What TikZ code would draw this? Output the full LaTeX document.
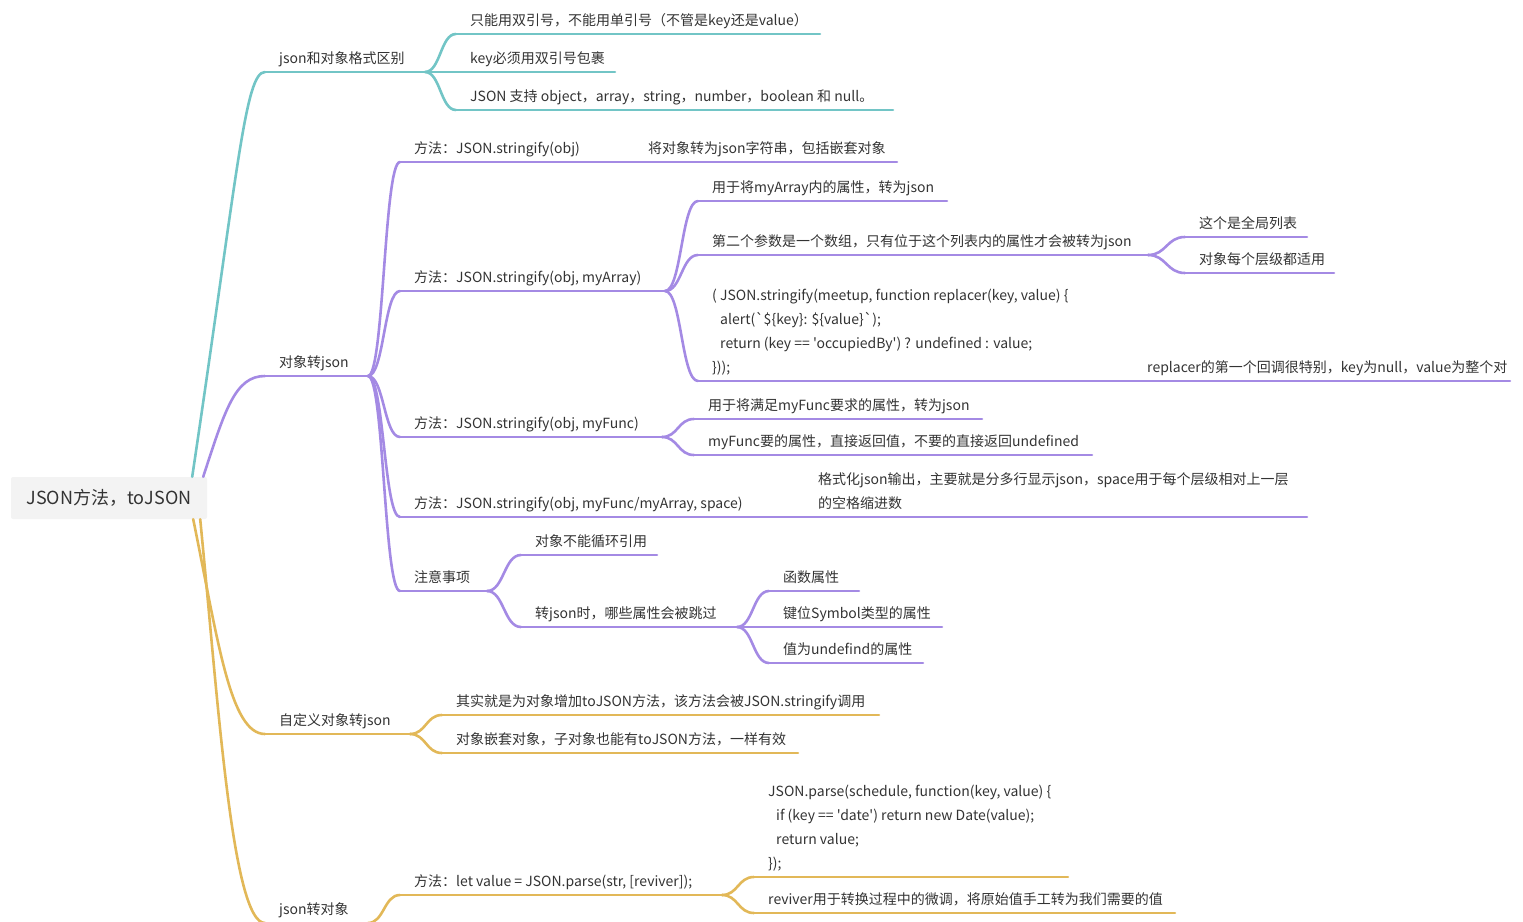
\documentclass[tikz,border=0pt]{standalone}
\usepackage{fontspec}
\setmainfont{Noto Sans CJK SC}[Ligatures=TeXOff]
\usetikzlibrary{calc}
\definecolor{cteal}{RGB}{114,197,198}
\definecolor{cpurple}{RGB}{164,138,228}
\definecolor{cyellow}{RGB}{226,184,88}
\definecolor{ctext}{RGB}{51,51,51}
\definecolor{croot}{RGB}{243,243,243}
\tikzset{
  lbl/.style={inner sep=0pt, text=ctext, font=\fontsize{14}{24}\selectfont, align=left, anchor=base west},
  uline/.style={line width=2.6pt, line cap=round},
  rootbox/.style={fill=croot, rounded corners=2pt, minimum width=196pt, minimum height=42pt, inner sep=0pt, text=ctext, font=\fontsize{18}{22}\selectfont},
}
% #1 name, #2 colour, #3 x0, #4 x1, #5 underline y, #6 text x, #7 last baseline y, #8 text
\newcommand\mmtopic[8]{%
  \coordinate (#1-s) at (#3,#5);
  \coordinate (#1-e) at (#4,#5);
  \draw[uline,#2] (#1-s) -- (#1-e);
  \node[lbl] (#1) at (#6,#7) {#8};
}
\newcommand\mmlink[3]{%
  \draw[uline,#1] let \p1=(#2-e), \p2=(#3-s) in
    (\p1) .. controls ({(\x1+\x2)/2},\y1) and ({(\x1+\x2)/2},\y2) .. (\p2);
}
\begin{document}
\begin{tikzpicture}[x=1pt,y=-1pt]
\useasboundingbox (0,0) rectangle (1523,921);

% root
\node[rootbox] (root) at (109,498) {JSON方法，toJSON};

% ---------- teal ----------
\mmtopic{t1}{cteal}{265}{425}{72}{279}{63}{json和对象格式区别}
\mmtopic{t1a}{cteal}{456}{820}{34}{470}{25}{只能用双引号，不能用单引号（不管是key还是value）}
\mmtopic{t1b}{cteal}{456}{615}{72}{470}{63}{key必须用双引号包裹}
\mmtopic{t1c}{cteal}{456}{893}{110}{470}{101}{JSON 支持 object，array，string，number，boolean 和 null。}
\mmlink{cteal}{t1}{t1a}
\mmlink{cteal}{t1}{t1b}
\mmlink{cteal}{t1}{t1c}

% ---------- purple ----------
\mmtopic{p1}{cpurple}{265}{368}{376}{279}{367}{对象转json}
\mmtopic{p1a}{cpurple}{400}{593}{162}{414}{153}{方法：JSON.stringify(obj)}
\mmtopic{p1a1}{cpurple}{593}{897}{162}{648}{153}{将对象转为json字符串，包括嵌套对象}
\mmtopic{p1b}{cpurple}{400}{665}{291}{414}{282}{方法：JSON.stringify(obj, myArray)}
\mmtopic{p1b1}{cpurple}{698}{947}{201}{712}{192}{用于将myArray内的属性，转为json}
\mmtopic{p1b2}{cpurple}{698}{1148}{255}{712}{246}{第二个参数是一个数组，只有位于这个列表内的属性才会被转为json}
\mmtopic{p1b2a}{cpurple}{1185}{1307}{237}{1199}{228}{这个是全局列表}
\mmtopic{p1b2b}{cpurple}{1185}{1334}{273}{1199}{264}{对象每个层级都适用}
\mmtopic{p1b3}{cpurple}{698}{1092}{381}{712}{372}{( JSON.stringify(meetup, function replacer(key, value) \{\\
\hspace*{8pt}alert(`\$\{key\}: \$\{value\}`);\\
\hspace*{8pt}return (key == 'occupiedBy') ? undefined : value;\\
\}));}
\mmtopic{p1b3a}{cpurple}{1092}{1510}{381}{1147}{372}{replacer的第一个回调很特别，key为null，value为整个对}
\mmtopic{p1c}{cpurple}{400}{662}{437}{414}{428}{方法：JSON.stringify(obj, myFunc)}
\mmtopic{p1c1}{cpurple}{694}{982}{419}{708}{410}{用于将满足myFunc要求的属性，转为json}
\mmtopic{p1c2}{cpurple}{694}{1092}{455}{708}{446}{myFunc要的属性，直接返回值，不要的直接返回undefined}
\mmtopic{p1d}{cpurple}{400}{765}{517}{414}{508}{方法：JSON.stringify(obj, myFunc/myArray, space)}
\mmtopic{p1d1}{cpurple}{765}{1307}{517}{818}{508}{格式化json输出，主要就是分多行显示json，space用于每个层级相对上一层\\的空格缩进数}
\mmtopic{p1e}{cpurple}{400}{487}{591}{414}{582}{注意事项}
\mmtopic{p1e1}{cpurple}{521}{657}{555}{535}{546}{对象不能循环引用}
\mmtopic{p1e2}{cpurple}{521}{737}{627}{535}{618}{转json时，哪些属性会被跳过}
\mmtopic{p1e2a}{cpurple}{769}{859}{591}{783}{582}{函数属性}
\mmtopic{p1e2b}{cpurple}{769}{942}{627}{783}{618}{键位Symbol类型的属性}
\mmtopic{p1e2c}{cpurple}{769}{923}{663}{783}{654}{值为undefind的属性}
\mmlink{cpurple}{p1}{p1a}
\mmlink{cpurple}{p1}{p1b}
\mmlink{cpurple}{p1}{p1c}
\mmlink{cpurple}{p1}{p1d}
\mmlink{cpurple}{p1}{p1e}
\mmlink{cpurple}{p1b}{p1b1}
\mmlink{cpurple}{p1b}{p1b2}
\mmlink{cpurple}{p1b}{p1b3}
\mmlink{cpurple}{p1b2}{p1b2a}
\mmlink{cpurple}{p1b2}{p1b2b}
\mmlink{cpurple}{p1c}{p1c1}
\mmlink{cpurple}{p1c}{p1c2}
\mmlink{cpurple}{p1e}{p1e1}
\mmlink{cpurple}{p1e}{p1e2}
\mmlink{cpurple}{p1e2}{p1e2a}
\mmlink{cpurple}{p1e2}{p1e2b}
\mmlink{cpurple}{p1e2}{p1e2c}

% ---------- yellow ----------
\mmtopic{y1}{cyellow}{265}{410}{734}{279}{725}{自定义对象转json}
\mmtopic{y1a}{cyellow}{442}{879}{715}{456}{706}{其实就是为对象增加toJSON方法，该方法会被JSON.stringify调用}
\mmtopic{y1b}{cyellow}{442}{798}{753}{456}{744}{对象嵌套对象，子对象也能有toJSON方法，一样有效}
\mmtopic{y2}{cyellow}{265}{368}{923}{279}{914}{json转对象}
\mmtopic{y2a}{cyellow}{400}{722}{895}{414}{886}{方法：let value = JSON.parse(str, [reviver]);}
\mmtopic{y2a1}{cyellow}{754}{1068}{877}{768}{868}{JSON.parse(schedule, function(key, value) \{\\
\hspace*{8pt}if (key == 'date') return new Date(value);\\
\hspace*{8pt}return value;\\
\});}
\mmtopic{y2a2}{cyellow}{754}{1175}{913}{768}{904}{reviver用于转换过程中的微调，将原始值手工转为我们需要的值}
\mmlink{cyellow}{y1}{y1a}
\mmlink{cyellow}{y1}{y1b}
\mmlink{cyellow}{y2}{y2a}
\mmlink{cyellow}{y2a}{y2a1}
\mmlink{cyellow}{y2a}{y2a2}

% ---------- root connectors ----------
\draw[uline,cteal] ($(root.north east)+(-15,0)$) .. controls (238,170) and (245,72) .. (t1-s);
\draw[uline,cpurple] ($(root.north east)+(-4,0)$) .. controls (225,410) and (235,376) .. (p1-s);
\draw[uline,cyellow] ($(root.south east)+(-14,0)$) .. controls (218,640) and (230,734) .. (y1-s);
\draw[uline,cyellow] ($(root.south east)+(-7,0)$) .. controls (218,700) and (232,923) .. (y2-s);
\end{tikzpicture}
\end{document}
